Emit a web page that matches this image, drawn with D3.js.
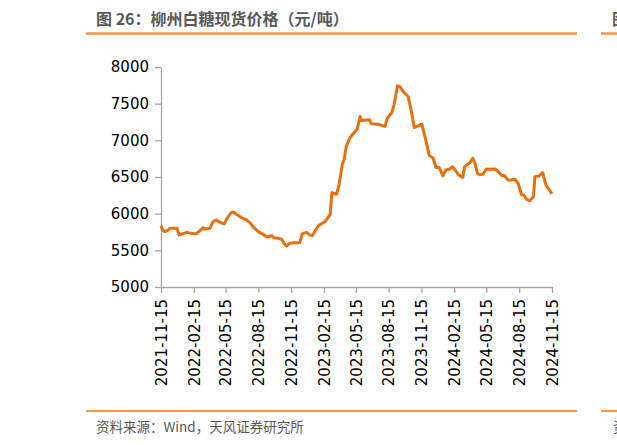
<!DOCTYPE html>
<html>
<head>
<meta charset="utf-8">
<script src="https://cdn.jsdelivr.net/npm/d3@7"></script>
<style>
  body { margin: 0; background: #fff; }
  svg { display: block; }
</style>
</head>
<body>
<script>
var w = 617;
var h = 445;

// 柳州白糖现货价格 (元/吨)
var dates = [
  "2021-11-15","2021-11-20","2021-11-26","2021-12-05","2021-12-10","2021-12-30",
  "2022-01-05","2022-01-12","2022-01-26","2022-02-13","2022-02-21","2022-03-04",
  "2022-03-13","2022-03-18","2022-04-01","2022-04-10","2022-04-18","2022-04-24",
  "2022-05-01","2022-05-11","2022-05-22","2022-06-01","2022-06-07","2022-06-15",
  "2022-06-24","2022-07-03","2022-07-13","2022-07-22","2022-07-31","2022-08-10",
  "2022-08-19","2022-08-28","2022-09-05","2022-09-11","2022-09-21","2022-09-28",
  "2022-10-09","2022-10-19","2022-10-26","2022-11-02","2022-11-11","2022-11-20",
  "2022-12-09","2022-12-16","2022-12-28","2023-01-06","2023-01-13","2023-01-30",
  "2023-02-17","2023-03-04","2023-03-09","2023-03-22","2023-03-29","2023-04-08",
  "2023-04-12","2023-04-18","2023-04-29","2023-05-07","2023-05-19","2023-05-27",
  "2023-05-31","2023-06-22","2023-06-28","2023-07-17","2023-08-05","2023-08-11",
  "2023-08-24","2023-08-30","2023-09-09","2023-09-16","2023-09-25","2023-10-09",
  "2023-10-17","2023-10-26","2023-11-03","2023-11-16","2023-11-25","2023-12-07",
  "2023-12-18","2023-12-26","2024-01-04","2024-01-14","2024-01-22","2024-02-03",
  "2024-02-10","2024-02-20","2024-02-27","2024-03-10","2024-03-15","2024-03-25",
  "2024-03-29","2024-04-07","2024-04-13","2024-04-20","2024-04-26","2024-05-06",
  "2024-05-15","2024-05-25","2024-06-08","2024-06-17","2024-06-27","2024-07-05",
  "2024-07-14","2024-07-25","2024-08-03","2024-08-12","2024-08-22","2024-08-28",
  "2024-09-05","2024-09-14","2024-09-24","2024-09-28","2024-10-10","2024-10-20",
  "2024-10-29","2024-11-09","2024-11-15"
];
var prices = [
  5840,5770,5755,5777,5800,5800,
  5710,5720,5745,5730,5725,5765,
  5810,5790,5800,5890,5915,5900,
  5877,5860,5960,6020,6020,5990,
  5960,5935,5915,5880,5820,5775,
  5740,5720,5690,5680,5700,5670,
  5665,5650,5595,5560,5595,5605,
  5605,5728,5745,5710,5700,5835,
  5890,5985,6285,6265,6390,6690,
  6730,6915,7040,7085,7150,7325,
  7270,7280,7225,7220,7190,7300,
  7380,7480,7745,7730,7665,7595,
  7415,7175,7190,7220,7050,6795,
  6755,6630,6630,6515,6595,6610,
  6640,6580,6530,6495,6640,6680,
  6690,6755,6690,6550,6530,6540,
  6610,6605,6610,6575,6520,6520,
  6460,6460,6470,6415,6255,6255,
  6195,6175,6230,6505,6515,6560,
  6390,6315,6270
];
var yTicks = [5000, 5500, 6000, 6500, 7000, 7500, 8000];
var xTicks = [
  "2021-11-15","2022-02-15","2022-05-15","2022-08-15","2022-11-15",
  "2023-02-15","2023-05-15","2023-08-15","2023-11-15",
  "2024-02-15","2024-05-15","2024-08-15","2024-11-15"
];

var titleText = "图 26：柳州白糖现货价格（元/吨）";
var sourceText = "资料来源：Wind，天风证券研究所";

var parse = d3.timeParse("%Y-%m-%d");
var fmt = d3.timeFormat("%Y-%m-%d");
var series = dates.map(function(d, i) { return { date: parse(d), value: prices[i] }; });

var plotLeft = 161, plotRight = 552, plotTop = 67, plotBottom = 287;
var orange = "#f79646";
var lineColor = "#e8700c";
var axisColor = "#a6a6a6";
var cjk = "'Noto Sans CJK SC', 'Noto Sans', sans-serif";

var svg = d3.select("body").append("svg")
  .attr("width", w)
  .attr("height", h);

// header
svg.append("text")
  .attr("x", 96).attr("y", 24.5)
  .attr("font-family", cjk)
  .attr("font-size", "16px")
  .attr("font-weight", "bold")
  .attr("fill", "#595959")
  .text(titleText);
svg.append("line")
  .attr("x1", 86).attr("x2", 577).attr("y1", 33.5).attr("y2", 33.5)
  .attr("stroke", orange).attr("stroke-width", 2.5);
// neighbouring panel, cut off at the right edge
svg.append("line")
  .attr("x1", 601).attr("x2", 617).attr("y1", 33.5).attr("y2", 33.5)
  .attr("stroke", orange).attr("stroke-width", 2.5);
svg.append("text")
  .attr("x", 612).attr("y", 24.5)
  .attr("font-family", cjk)
  .attr("font-size", "16px")
  .attr("font-weight", "bold")
  .attr("fill", "#595959")
  .text("图");

// footer
svg.append("line")
  .attr("x1", 86).attr("x2", 577).attr("y1", 411).attr("y2", 411)
  .attr("stroke", orange).attr("stroke-width", 2);
svg.append("line")
  .attr("x1", 601).attr("x2", 617).attr("y1", 411).attr("y2", 411)
  .attr("stroke", orange).attr("stroke-width", 2);
svg.append("text")
  .attr("x", 96).attr("y", 432)
  .attr("font-family", cjk)
  .attr("font-size", "13.5px")
  .attr("fill", "#595959")
  .text(sourceText);
svg.append("text")
  .attr("x", 613).attr("y", 432)
  .attr("font-family", cjk)
  .attr("font-size", "13.5px")
  .attr("fill", "#595959")
  .text("资");

var x = d3.scaleTime()
  .domain([parse(xTicks[0]), parse(xTicks[xTicks.length - 1])])
  .range([plotLeft, plotRight]);
var y = d3.scaleLinear()
  .domain([5000, 8000])
  .range([plotBottom, plotTop]);

var yAxis = svg.append("g")
  .attr("transform", "translate(" + plotLeft + ",0)")
  .call(d3.axisLeft(y).tickValues(yTicks).tickFormat(d3.format("d"))
    .tickSize(6).tickSizeOuter(0).tickPadding(6));
yAxis.selectAll("text")
  .attr("font-family", "'DejaVu Sans', sans-serif")
  .attr("font-size", "15px")
  .attr("fill", "#000");

var xAxis = svg.append("g")
  .attr("transform", "translate(0," + plotBottom + ")")
  .call(d3.axisBottom(x).tickValues(xTicks.map(parse)).tickFormat(fmt)
    .tickSize(6).tickSizeOuter(0));
xAxis.selectAll("text")
  .attr("font-family", "'DejaVu Sans', sans-serif")
  .attr("font-size", "15px")
  .attr("fill", "#000")
  .attr("text-anchor", "end")
  .attr("transform", "rotate(-90)")
  .attr("x", -12)
  .attr("y", 0)
  .attr("dy", "0.35em");

svg.selectAll(".domain, .tick line")
  .attr("stroke", axisColor)
  .attr("stroke-width", 1.3);

var line = d3.line()
  .x(function(d) { return x(d.date); })
  .y(function(d) { return y(d.value); });

svg.append("path")
  .datum(series)
  .attr("fill", "none")
  .attr("stroke", lineColor)
  .attr("stroke-width", 3)
  .attr("stroke-linejoin", "round")
  .attr("d", line);
</script>
</body>
</html>
